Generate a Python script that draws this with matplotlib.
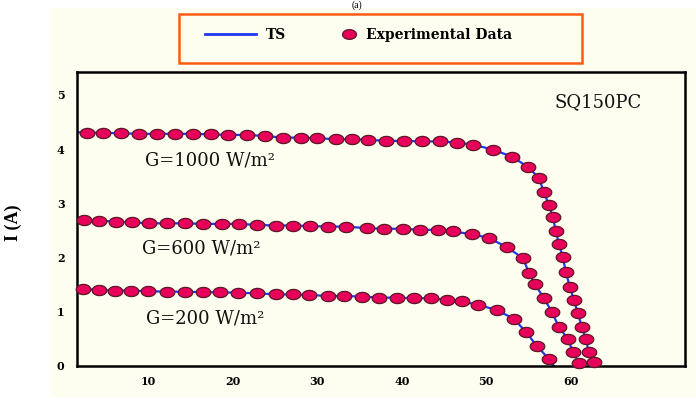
import numpy as np
import matplotlib.pyplot as plt
from matplotlib.patches import Rectangle
from matplotlib.lines import Line2D

# measured I-V points (V in volts, I in amps)
v_1000 = [2.75, 4.72, 6.81, 8.94, 11.03, 13.19, 15.28, 17.41, 19.49, 21.67, 23.83,
          25.99, 28.05, 30.01, 32.22, 34.08, 36.04, 38.13, 40.26, 42.42, 44.52, 46.49,
          48.45, 50.78, 53.03, 54.92, 56.21, 56.80, 57.40, 57.87, 58.23, 58.58, 59.05,
          59.41, 59.88, 60.35, 60.82, 61.30, 61.77, 62.12, 62.71]
i_1000 = [4.30, 4.30, 4.29, 4.28, 4.28, 4.28, 4.28, 4.27, 4.26, 4.26, 4.24,
          4.21, 4.21, 4.20, 4.18, 4.18, 4.17, 4.15, 4.15, 4.14, 4.14, 4.12,
          4.08, 3.99, 3.86, 3.67, 3.47, 3.21, 2.97, 2.75, 2.49, 2.25, 2.01,
          1.73, 1.46, 1.22, 0.98, 0.72, 0.50, 0.26, 0.07]

v_600 = [2.43, 4.24, 6.22, 8.07, 10.15, 12.28, 14.37, 16.54, 18.71, 20.79, 22.92,
         25.13, 27.17, 29.15, 31.31, 33.40, 35.85, 37.93, 40.11, 42.15, 44.24, 46.09,
         48.26, 50.31, 52.44, 54.33, 55.04, 55.74, 56.81, 57.75, 58.58, 59.65, 60.24,
         60.95]
i_600 = [2.69, 2.68, 2.66, 2.65, 2.63, 2.63, 2.63, 2.62, 2.62, 2.62, 2.60,
         2.59, 2.59, 2.58, 2.57, 2.57, 2.54, 2.53, 2.53, 2.51, 2.51, 2.48,
         2.43, 2.36, 2.19, 1.99, 1.72, 1.51, 1.25, 1.00, 0.72, 0.50, 0.26,
         0.06]

v_200 = [2.28, 4.24, 6.10, 7.96, 10.04, 12.21, 14.37, 16.47, 18.51, 20.67, 22.92,
         25.13, 27.10, 29.07, 31.31, 33.20, 35.26, 37.34, 39.40, 41.48, 43.42, 45.31,
         47.08, 49.04, 51.25, 53.26, 54.68, 55.98, 57.40]
i_200 = [1.42, 1.40, 1.39, 1.39, 1.38, 1.37, 1.37, 1.36, 1.36, 1.35, 1.34,
         1.32, 1.32, 1.31, 1.29, 1.29, 1.28, 1.26, 1.26, 1.25, 1.25, 1.22,
         1.19, 1.13, 1.03, 0.87, 0.63, 0.37, 0.13]

# TS model end points: short-circuit current and open-circuit voltage
isc = {'1000': 4.31, '600': 2.70, '200': 1.43}
voc = {'1000': 63.0, '600': 61.3, '200': 58.0}
curves = [('1000', v_1000, i_1000), ('600', v_600, i_600), ('200', v_200, i_200)]

x_ticks = [10, 20, 30, 40, 50, 60]
y_ticks = [0, 1, 2, 3, 4, 5]

line_color = '#2236f0'
dot_face = '#e6005a'
dot_edge = '#5c1a28'
cream = '#fefef0'

# flattened ellipse used as the marker
t = np.linspace(0, 2 * np.pi, 60)
ellipse = list(zip(np.cos(t), 0.70 * np.sin(t)))

fig = plt.figure(figsize=(6.96, 4.03), dpi=100)
fig.patches.append(Rectangle((50 / 696, 1 - 397 / 403), 646 / 696, 389 / 403,
                             transform=fig.transFigure, facecolor=cream,
                             edgecolor='none', zorder=-10))

ax = fig.add_axes([77 / 696, 1 - 366 / 403, 608 / 696, 294 / 403])
ax.set_facecolor(cream)

x_start = 1.6
for key, v, i in curves:
    ax.plot([x_start] + v + [voc[key]], [isc[key]] + i + [0], color=line_color,
            lw=1.6, zorder=2)
    ax.plot(v, i, ls='none', marker=ellipse, ms=10.5, mfc=dot_face, mec=dot_edge,
            mew=0.9, zorder=3, clip_on=False)

ax.set_xlim(x_start, 73.5)
ax.set_ylim(0, 5.42)
ax.set_xticks(x_ticks)
ax.set_yticks(y_ticks)
ax.tick_params(length=0, labelsize=8, pad=7)
ax.tick_params(axis='y', pad=9)
for lab in ax.get_xticklabels() + ax.get_yticklabels():
    lab.set_fontfamily('DejaVu Serif')
    lab.set_fontweight('bold')
for sp in ax.spines.values():
    sp.set_linewidth(1.8)
    sp.set_color('black')

ax.set_ylabel('I (A)', fontfamily='Liberation Serif', fontweight='bold', fontsize=13)
ax.yaxis.set_label_coords(-0.09, 0.486)

# irradiance labels
txt = dict(fontfamily='DejaVu Serif', fontsize=13, va='center', ha='left', color='#111111')
ax.text(9.65, 3.78, 'G=1000 W/m²', **txt)
ax.text(9.29, 2.16, 'G=600 W/m²', **txt)
ax.text(9.76, 0.87, 'G=200 W/m²', **txt)
ax.text(58.1, 4.87, 'SQ150PC', **txt)

# legend box
fig.patches.append(Rectangle((179 / 696, 1 - 63 / 403), 403 / 696, 49 / 403,
                             transform=fig.transFigure, facecolor='none',
                             edgecolor='#ff5a14', lw=1.8, zorder=5))
h_ts = Line2D([], [], color=line_color, lw=2)
h_exp = Line2D([], [], ls='none', marker=ellipse, ms=10, mfc=dot_face, mec=dot_edge, mew=0.9)
leg_font = {'family': 'DejaVu Serif', 'weight': 'bold', 'size': 10}
fig.legend([h_ts], ['TS'], loc='center left', bbox_to_anchor=(205 / 696, 1 - 35 / 403),
           frameon=False, borderpad=0, borderaxespad=0, handlelength=3.7,
           handletextpad=0.7, prop=leg_font)
fig.legend([h_exp], ['Experimental Data'], loc='center left',
           bbox_to_anchor=(341 / 696, 1 - 35 / 403), frameon=False, borderpad=0,
           borderaxespad=0, handlelength=1.2, handletextpad=0.6, prop=leg_font)

fig.text(357 / 696, 1.0, '(a)', fontfamily='Liberation Serif', fontsize=7,
         ha='center', va='top')

fig.savefig('out.png', dpi=100)
